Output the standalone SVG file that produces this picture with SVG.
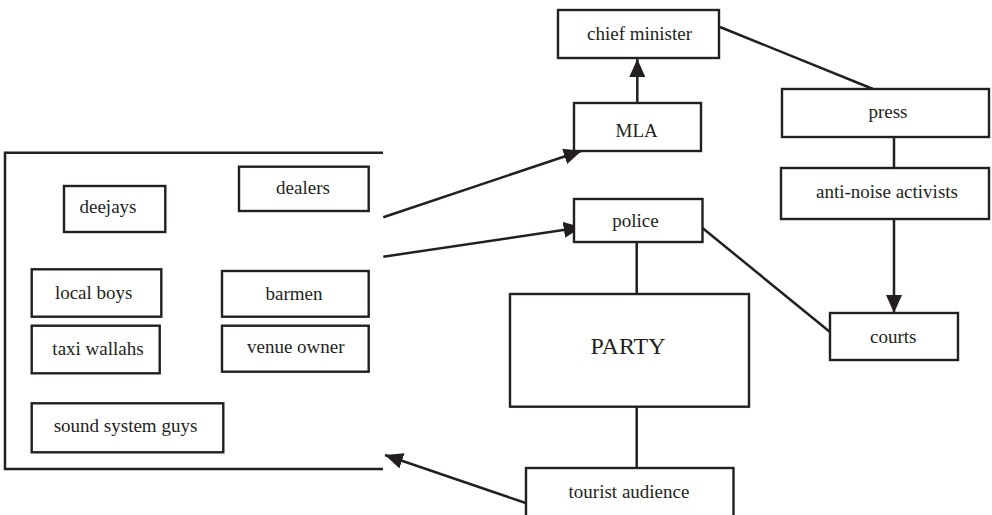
<svg xmlns="http://www.w3.org/2000/svg" width="992" height="515" viewBox="0 0 992 515">
<defs>
<marker id="ah" markerUnits="userSpaceOnUse" markerWidth="19" markerHeight="17" refX="18" refY="8" orient="auto">
<path d="M0,0 L18,8 L0,16 z" fill="#231f20"/>
</marker>
<style>
rect{fill:#fff;stroke:#231f20;stroke-width:2.4}
text{font-size:19px;fill:#231f20;text-anchor:middle}
.c{stroke:#231f20;stroke-width:2.5;fill:none}
.a{marker-end:url(#ah)}
</style>
</defs>
<rect x="0" y="0" width="992" height="515" style="fill:#fff;stroke:none"/>
<g id="connectors">
<line class="c a" x1="637.3" y1="103" x2="637.3" y2="59"/>
<line class="c" x1="720" y1="27" x2="873" y2="89"/>
<line class="c" x1="894" y1="137" x2="894" y2="168"/>
<line class="c a" x1="894" y1="219" x2="894" y2="313"/>
<line class="c" x1="702.5" y1="228" x2="830" y2="332"/>
<line class="c" x1="636.7" y1="242" x2="636.7" y2="294"/>
<line class="c" x1="636.7" y1="407" x2="636.7" y2="468"/>
<line class="c a" x1="383.3" y1="217.3" x2="581.7" y2="150.7"/>
<line class="c a" x1="383.3" y1="256.7" x2="581.7" y2="227.3"/>
<line class="c a" x1="525.7" y1="503" x2="385" y2="455"/>
<polyline class="c" points="383,152.7 5,152.7 5,469 383,469"/>
</g>
<g font-family="Liberation Serif, DejaVu Serif, serif">
<g id="chief-minister"><rect x="558" y="10" width="161" height="48"/><text x="639.5" y="40">chief minister</text></g>
<g id="mla"><rect x="574" y="103" width="127" height="48"/><text x="636.7" y="136.5">MLA</text></g>
<g id="press"><rect x="782" y="89" width="207" height="48"/><text x="888" y="118">press</text></g>
<g id="anti-noise-activists"><rect x="781" y="168" width="208" height="51"/><text x="887" y="198.3">anti-noise activists</text></g>
<g id="courts"><rect x="830" y="313" width="128" height="47"/><text x="893.3" y="343.3">courts</text></g>
<g id="police"><rect x="574" y="199" width="128.5" height="43"/><text x="635.5" y="226.7">police</text></g>
<g id="party"><rect x="510" y="294" width="239" height="112.7"/><text x="628" y="354" style="font-size:24px">PARTY</text></g>
<g id="tourist-audience"><rect x="526" y="468" width="207.5" height="60"/><text x="629" y="498.3">tourist audience</text></g>
<g id="deejays"><rect x="64" y="186" width="101.3" height="46"/><text x="108" y="213.3">deejays</text></g>
<g id="dealers"><rect x="239" y="166.7" width="129.7" height="44.3"/><text x="303" y="194">dealers</text></g>
<g id="local-boys"><rect x="31.7" y="269.3" width="129.6" height="47.4"/><text x="93.7" y="299">local boys</text></g>
<g id="barmen"><rect x="222" y="271" width="146.7" height="45.7"/><text x="294" y="300">barmen</text></g>
<g id="taxi-wallahs"><rect x="31.7" y="325.7" width="128" height="47.6"/><text x="98" y="355">taxi wallahs</text></g>
<g id="venue-owner"><rect x="222" y="325.7" width="146.7" height="46"/><text x="295.8" y="353.3">venue owner</text></g>
<g id="sound-system-guys"><rect x="31.7" y="403.3" width="191.6" height="49"/><text x="125.5" y="432.3">sound system guys</text></g>
</g>
</svg>
